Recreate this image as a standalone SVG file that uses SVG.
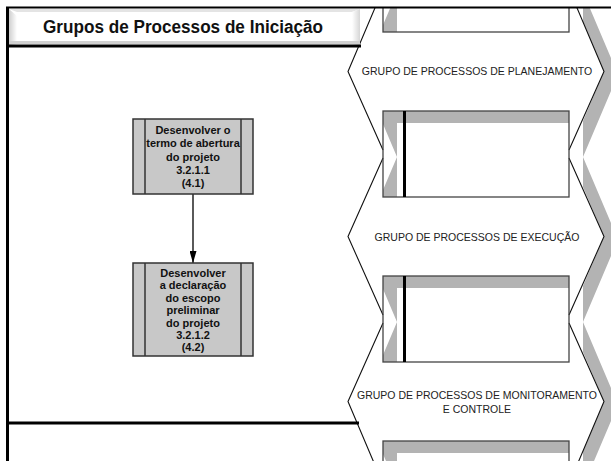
<svg xmlns="http://www.w3.org/2000/svg" width="611" height="461" viewBox="0 0 611 461">
<style>
.hex{fill:#fff;fill-rule:evenodd;stroke:none}
.shadow{fill:#b3b3b3;fill-rule:evenodd;stroke:none}
.band{fill:#b3b3b3}
.edge{fill:none;stroke:#111;stroke-width:1.1}
.box{fill:none;stroke:#444;stroke-width:1.3}
.bar{stroke:#000;stroke-width:3}
.grp{font-family:"Liberation Sans",Arial,sans-serif;font-size:10.5px;fill:#222;text-anchor:middle}
.node rect{fill:#c8c8c8;stroke:#333;stroke-width:1.5}
.node line{stroke:#333;stroke-width:1.5}
.nt{font-family:"Liberation Sans",Arial,sans-serif;font-size:11px;font-weight:bold;fill:#111;text-anchor:middle}
.thick{stroke:#000;stroke-width:3}
</style>
<defs>
<clipPath id="clip"><rect x="0" y="8" width="611" height="453"/></clipPath>
<linearGradient id="bevL" x1="0" y1="0" x2="1" y2="0"><stop offset="0" stop-color="#cfcfcf"/><stop offset="1" stop-color="#ffffff"/></linearGradient>
<linearGradient id="bevR" x1="1" y1="0" x2="0" y2="0"><stop offset="0" stop-color="#d6d6d6"/><stop offset="1" stop-color="#ffffff"/></linearGradient>
<marker id="arr" markerWidth="12" markerHeight="7" refX="12" refY="3.5" orient="auto" markerUnits="userSpaceOnUse" viewBox="0 0 12 7">
<path d="M0,0 L12,3.5 L0,7 Z" fill="#000"/>
</marker>
</defs>
<rect width="611" height="461" fill="#fff"/>

<g id="column" clip-path="url(#clip)">
<path id="colShadow" class="shadow" transform="translate(14,3)" d="M383,-60 L383,-11 L348,71.5 L383,154 L348,236.5 L383,319 L348,401.5 L383,484 L383,560 L569,560 L569,484 L604,401.5 L569,319 L604,236.5 L569,154 L604,71.5 L569,-11 L569,-60 Z M383,-54 H569 V32 H383 Z M383,111 H569 V197 H383 Z M383,276 H569 V362 H383 Z M383,441 H569 V527 H383 Z"/>
<path id="colShape" class="hex" d="M383,-60 L383,-11 L348,71.5 L383,154 L348,236.5 L383,319 L348,401.5 L383,484 L383,560 L569,560 L569,484 L604,401.5 L569,319 L604,236.5 L569,154 L604,71.5 L569,-11 L569,-60 Z M383,-54 H569 V32 H383 Z M383,111 H569 V197 H383 Z M383,276 H569 V362 H383 Z M383,441 H569 V527 H383 Z"/>
<rect class="band" x="383" y="111" width="186" height="12"/>
<rect class="band" x="383" y="276" width="186" height="12"/>
<rect class="band" x="383" y="441" width="186" height="12"/>
<polyline class="edge" points="383,-11 348,71.5 383,150"/>
<polyline class="edge" points="383,158 348,236.5 383,315"/>
<polyline class="edge" points="383,323 348,401.5 383,484"/>
<polyline class="edge" points="569,-11 604,71.5 569,150"/>
<polyline class="edge" points="569,158 604,236.5 569,315"/>
<polyline class="edge" points="569,323 604,401.5 569,484"/>
<rect class="box" x="383" y="-54" width="186" height="86"/>
<rect class="box" x="383" y="111" width="186" height="86"/>
<rect class="box" x="383" y="276" width="186" height="86"/>
<rect class="box" x="383" y="441" width="186" height="86"/>
<line class="bar" x1="404.5" y1="111" x2="404.5" y2="197"/>
<line class="bar" x1="404.5" y1="276" x2="404.5" y2="362"/>
</g>

<g id="grp-planejamento"><text class="grp" x="477" y="75">GRUPO DE PROCESSOS DE PLANEJAMENTO</text></g>
<g id="grp-execucao"><text class="grp" x="477" y="240.5">GRUPO DE PROCESSOS DE EXECUÇÃO</text></g>
<g id="grp-monitoramento"><text class="grp" x="477" y="399">GRUPO DE PROCESSOS DE MONITORAMENTO</text><text class="grp" x="477" y="413">E CONTROLE</text></g>

<g id="panel">
<rect x="9" y="9" width="351" height="36" fill="#fff"/>
<polygon points="9,9 17,16 17,45 9,45" fill="url(#bevL)"/>
<polygon points="9,9 360,9 352,12 17,12" fill="#e4e4e4"/>
<polygon points="360,9 360,45 352,45 352,12" fill="url(#bevR)"/>
<rect x="9" y="41" width="351" height="3" fill="#d0d0d0"/>
<text x="183" y="33" font-family="'Liberation Sans',Arial,sans-serif" font-size="18" font-weight="bold" fill="#111" text-anchor="middle" textLength="280" lengthAdjust="spacingAndGlyphs">Grupos de Processos de Iniciação</text>
<line class="thick" x1="7" y1="46" x2="361" y2="46"/>
<line class="thick" x1="7" y1="423" x2="359" y2="423"/>
<line x1="6" y1="7.5" x2="611" y2="7.5" stroke="#000" stroke-width="2"/>
<line x1="7.5" y1="7" x2="7.5" y2="461" stroke="#000" stroke-width="3"/>
</g>

<g id="connectors">
<line x1="193" y1="194" x2="193" y2="263" stroke="#000" stroke-width="1.3" marker-end="url(#arr)"/>
</g>

<g id="node1" class="node">
<rect x="133" y="119" width="120" height="75"/>
<line x1="145" y1="119" x2="145" y2="194"/>
<line x1="241" y1="119" x2="241" y2="194"/>
<text class="nt" x="193" y="134">Desenvolver o</text>
<text class="nt" x="193" y="147.3">termo de abertura</text>
<text class="nt" x="193" y="160.6">do projeto</text>
<text class="nt" x="193" y="174">3.2.1.1</text>
<text class="nt" x="193" y="187.2">(4.1)</text>
</g>

<g id="node2" class="node">
<rect x="133" y="263" width="120" height="93"/>
<line x1="145" y1="263" x2="145" y2="356"/>
<line x1="241" y1="263" x2="241" y2="356"/>
<text class="nt" x="193" y="277">Desenvolver</text>
<text class="nt" x="193" y="289.4">a declaração</text>
<text class="nt" x="193" y="301.8">do escopo</text>
<text class="nt" x="193" y="314.2">preliminar</text>
<text class="nt" x="193" y="326.6">do projeto</text>
<text class="nt" x="193" y="339">3.2.1.2</text>
<text class="nt" x="193" y="351.4">(4.2)</text>
</g>
</svg>
